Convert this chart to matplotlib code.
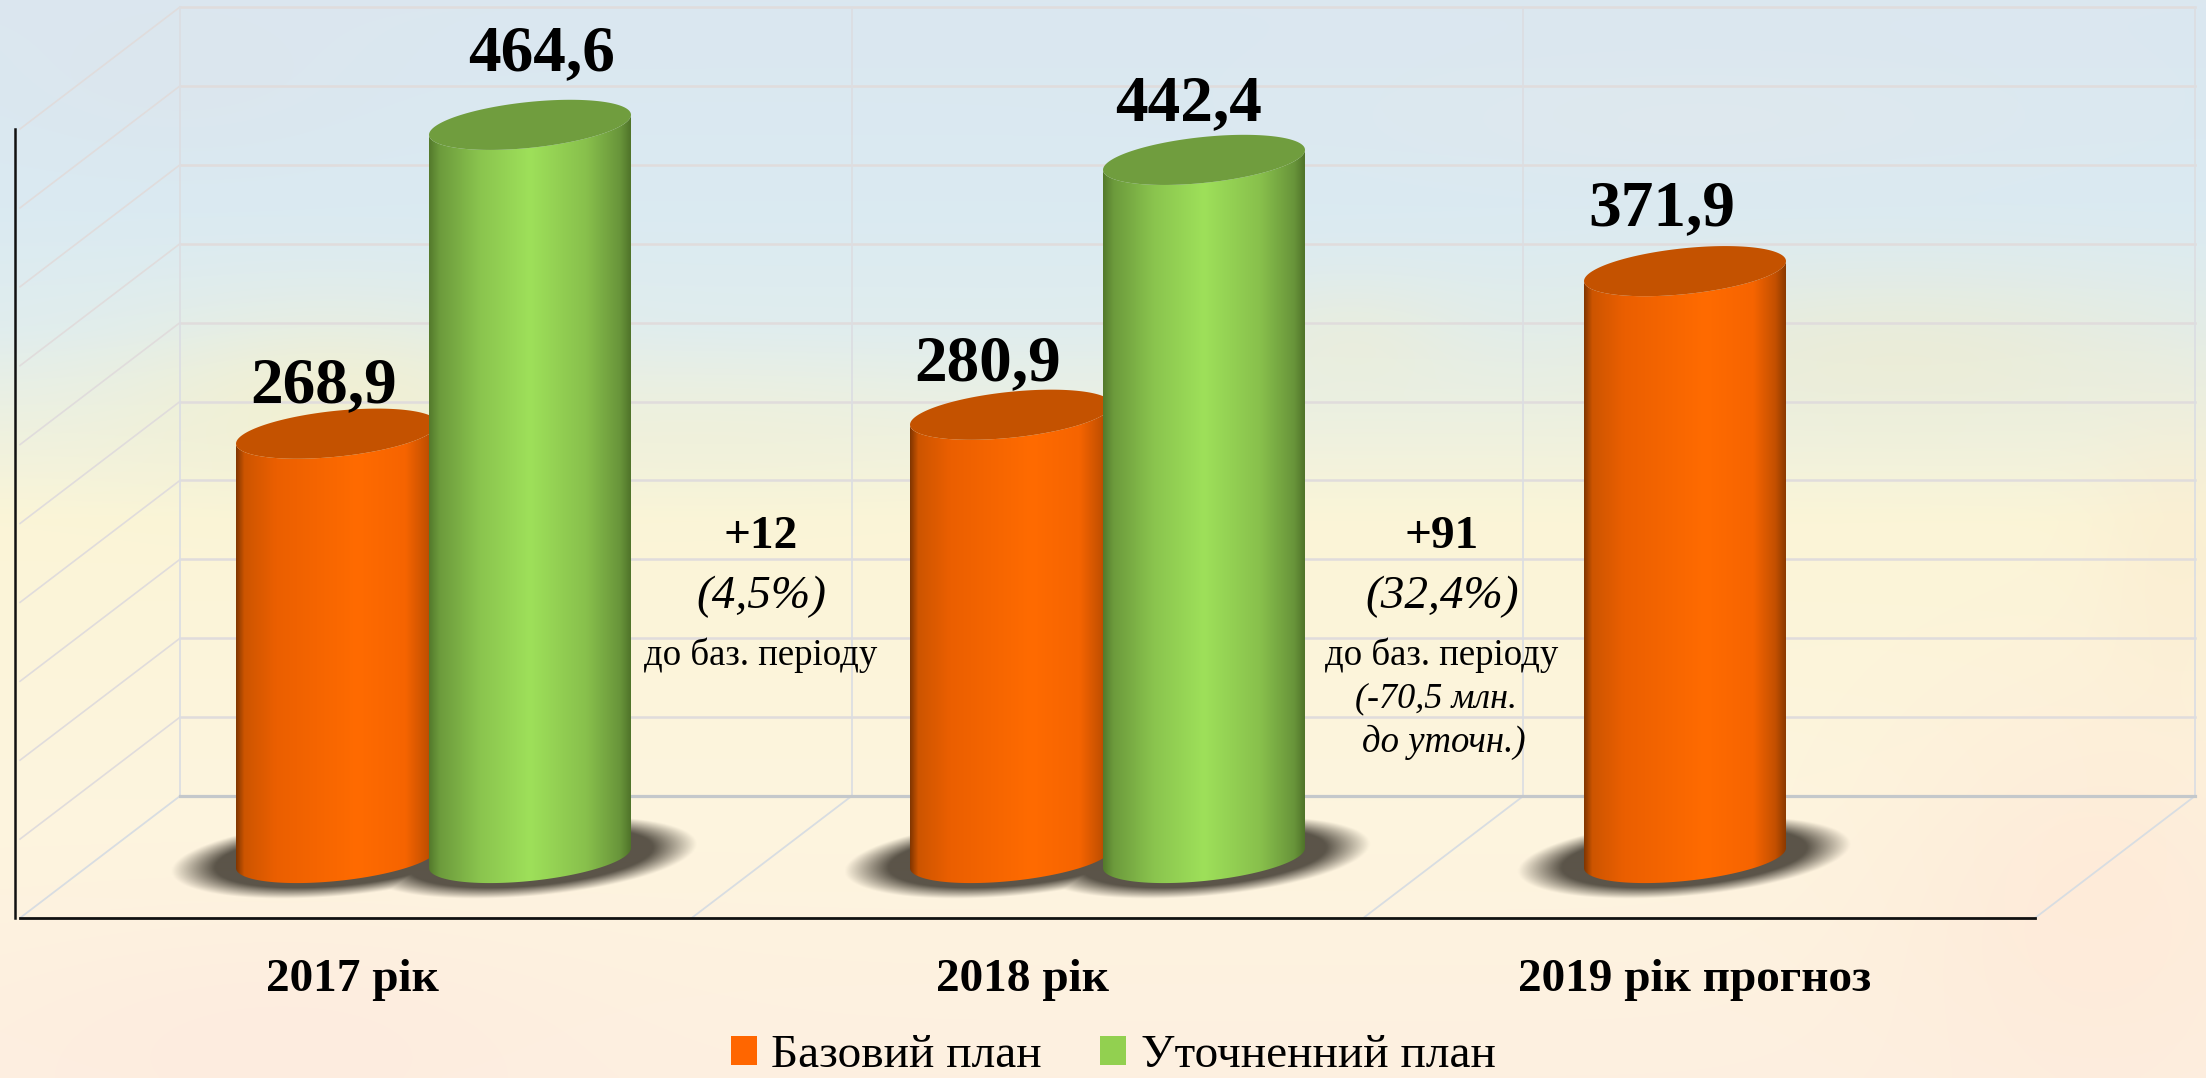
import numpy as np
import matplotlib
matplotlib.use('Agg')
import matplotlib.pyplot as plt
from matplotlib.patches import Polygon, Patch

years = ['2017 рік', '2018 рік', '2019 рік прогноз']
base_plan = [268.9, 280.9, 371.9]
updated_plan = [464.6, 442.4, None]
base_labels = ['268,9', '280,9', '371,9']
updated_labels = ['464,6', '442,4', None]
series_names = ['Базовий план', 'Уточненний план']

SERIF = 'Liberation Serif'
ORANGE = '#ff6600'
GREEN = '#92d050'

# one x unit = one group, one y unit = one value unit (1.578 px)
PX_X = 674.0
PX_Y = 1.578
X0, Y0 = 337.0, 858.0


def to_x(px):
    return (px - X0) / PX_X


def to_y(px):
    return (Y0 - px) / PX_Y


BAR_W = 202 / PX_X
GREEN_OFF = 193 / PX_X
ELL_B = 23 / PX_Y
ELL_K = 10 / PX_Y

fig = plt.figure(figsize=(22.06, 10.78), dpi=100)
ax = fig.add_axes([0, 0, 1, 1])
ax.set_xlim(to_x(0), to_x(2206))
ax.set_ylim(to_y(1078), to_y(0))
ax.axis('off')
EXTENT = (to_x(0), to_x(2206), to_y(1078), to_y(0))


def draw_background():
    yy, xx = np.mgrid[0:1078:270j, 0:2206:552j]
    stops = [0, 200, 330, 430, 520, 800, 1078]
    cols = np.array([[219, 231, 240], [218, 234, 242], [224, 237, 238], [238, 241, 224],
                     [251, 245, 215], [253, 245, 222], [253, 240, 225]], float)
    img = np.stack([np.interp(yy, stops, cols[:, i]) for i in range(3)], axis=-1)
    # soft patches of the painted backdrop: x, y, rx, ry, colour, strength
    blobs = [(330, 400, 200, 90, (244, 240, 205), 0.7),
             (1350, 340, 120, 60, (240, 238, 210), 0.5),
             (1900, 350, 300, 80, (240, 236, 205), 0.6),
             (720, 430, 180, 60, (240, 240, 215), 0.4),
             (1700, 120, 350, 70, (226, 232, 236), 0.5),
             (180, 80, 200, 90, (220, 229, 236), 0.5),
             (280, 1040, 300, 110, (255, 232, 222), 0.5),
             (2100, 900, 220, 220, (255, 230, 214), 0.6),
             (2180, 560, 80, 150, (250, 232, 205), 0.4)]
    for bx, by, rx, ry, col, s in blobs:
        a = s * np.exp(-((xx - bx) / rx) ** 2 - ((yy - by) / ry) ** 2)
        img = img * (1 - a[..., None]) + np.array(col, float) * a[..., None]
    ax.imshow(img / 255, extent=EXTENT, origin='upper', aspect='auto', zorder=0, interpolation='bilinear')


def draw_frame():
    # depth of the box, the bars stand half way in
    back_x, back_y = to_x(180), to_y(796)
    front_x, front_y = to_x(20), to_y(918)
    dx = back_x - front_x
    span = (2195 - 180) / PX_X
    grid = '#e0dcdc'
    for v in np.arange(50, 501, 50):
        ax.plot([back_x, back_x + span], [back_y + v, back_y + v], color=grid, lw=1.8, zorder=1)
        ax.plot([front_x, back_x], [front_y + v, back_y + v], color=grid, lw=1.2, zorder=1)
    top = back_y + 500
    for k in range(4):
        bx = back_x + k * span / 3
        ax.plot([bx, bx], [back_y, top], color='#dcdee2', lw=1.3, zorder=1)
        ax.plot([bx - dx, bx], [front_y, back_y], color='#d8dde2', lw=1.3, zorder=1)
    ax.plot([back_x, back_x + span], [back_y, back_y], color='#c4c8cb', lw=2.3, zorder=1)
    ax.plot([front_x, front_x + span], [front_y, front_y], color='#111111', lw=2, zorder=2)
    ax.plot([to_x(15), to_x(15)], [front_y, front_y + 500], color='#111111', lw=1.8, zorder=2)


def draw_shadows():
    yy, xx = np.mgrid[to_y(770):to_y(930):180j, to_x(100):to_x(2000):950j]
    alpha = np.zeros_like(xx)
    for i in range(len(years)):
        centers = [i] if updated_plan[i] is None else [i, i + GREEN_OFF]
        for c in centers:
            u = (xx - c) / (146 / PX_X)
            v = (yy - u * 12 / PX_Y) / (34 / PX_Y)
            d = np.sqrt(u ** 2 + v ** 2)
            alpha = np.maximum(alpha, np.clip((1.14 - d) / 0.3, 0, 1))
    rgba = np.zeros(xx.shape + (4,))
    rgba[..., :3] = np.array([72, 66, 56]) / 255
    rgba[..., 3] = alpha * 0.9
    ax.imshow(rgba, extent=(to_x(100), to_x(2000), to_y(930), to_y(770)), origin='upper',
              aspect='auto', zorder=3, interpolation='bilinear')


def cylinder(cx, value, stops, cols, top_col, z):
    a = BAR_W / 2
    t = np.linspace(0, np.pi, 80)
    # bottom rim from left to right, then back along the top rim
    bx = cx - a * np.cos(t)
    by = -ELL_B * np.sin(t) - ELL_K * np.cos(t)
    tx = cx + a * np.cos(t)
    ty = value - ELL_B * np.sin(t) + ELL_K * np.cos(t)
    body = Polygon(np.column_stack([np.r_[bx, tx], np.r_[by, ty]]), closed=True,
                   facecolor='none', edgecolor='none', transform=ax.transData)
    ax.add_patch(body)
    u = np.linspace(0, 1, 256)
    grad = np.stack([np.interp(u, stops, np.array(cols)[:, i]) for i in range(3)], axis=-1)[None, :, :] / 255
    im = ax.imshow(grad, extent=(cx - a, cx + a, -40, value + 30), aspect='auto', zorder=z,
                   interpolation='bilinear')
    im.set_clip_path(body)
    # top face
    s = np.linspace(0, 2 * np.pi, 160)
    ex = cx + a * np.cos(s)
    ey = value + ELL_B * np.sin(s) + ELL_K * np.cos(s)
    ax.fill(ex, ey, color=top_col, lw=0, zorder=z + 0.1)


ORANGE_STOPS = [0, 0.04, 0.2, 0.6, 0.84, 0.95, 1]
ORANGE_COLS = [(130, 54, 0), (205, 85, 0), (235, 95, 0), (255, 107, 0), (246, 100, 0), (195, 80, 0), (140, 58, 0)]
GREEN_STOPS = [0, 0.05, 0.25, 0.5, 0.78, 0.95, 1]
GREEN_COLS = [(84, 122, 44), (108, 154, 60), (138, 196, 78), (158, 224, 90), (136, 192, 76), (104, 148, 58), (80, 116, 42)]

draw_background()
draw_frame()
draw_shadows()

for i, val in enumerate(base_plan):
    cylinder(i, val, ORANGE_STOPS, ORANGE_COLS, '#c45200', 4)
    if updated_plan[i] is not None:
        cylinder(i + GREEN_OFF, updated_plan[i], GREEN_STOPS, GREEN_COLS, '#709d3e', 5)

# value labels: x shift and baseline lift in px
base_shift = [(-13, 32), (-23, 35), (-23, 46)]
upd_shift = [(12, 55), (-15, 40), None]
for i, val in enumerate(base_plan):
    ax.text(i + base_shift[i][0] / PX_X, val + base_shift[i][1] / PX_Y, base_labels[i], family=SERIF,
            weight='bold', fontsize=47, ha='center', va='baseline', color='black', zorder=8)
    if updated_plan[i] is not None:
        ax.text(i + GREEN_OFF + upd_shift[i][0] / PX_X, updated_plan[i] + upd_shift[i][1] / PX_Y,
                updated_labels[i], family=SERIF, weight='bold', fontsize=47, ha='center',
                va='baseline', color='black', zorder=8)

for x_px, name in zip([352, 1023, 1695], years):
    ax.text(to_x(x_px), to_y(980), name, family=SERIF, weight='bold', fontsize=34, ha='center',
            va='center', color='black', zorder=8)

# notes between the groups
notes = [(761, 537, '+12', 'bold', 'normal', 34),
         (761, 597, '(4,5%)', 'normal', 'italic', 34),
         (761, 655, 'до баз. періоду', 'normal', 'normal', 26.5),
         (1442, 537, '+91', 'bold', 'normal', 34),
         (1442, 597, '(32,4%)', 'normal', 'italic', 34),
         (1442, 655, 'до баз. періоду', 'normal', 'normal', 26.5),
         (1436, 699, '(-70,5 млн.', 'normal', 'italic', 26),
         (1444, 742, 'до уточн.)', 'normal', 'italic', 26.5)]
for x_px, y_px, txt, w, st, fs in notes:
    ax.text(to_x(x_px), to_y(y_px), txt, family=SERIF, weight=w, style=st, fontsize=fs, ha='center',
            va='center', color='black', zorder=8)

handles = [Patch(facecolor=ORANGE, label=series_names[0]), Patch(facecolor=GREEN, label=series_names[1])]
ax.legend(handles=handles, loc='center', bbox_to_anchor=(1113 / 2206, 1 - 1056 / 1078), ncol=2, frameon=False,
          prop={'family': SERIF, 'size': 34}, handlelength=0.55, handleheight=0.55, handletextpad=0.3,
          columnspacing=1.25, borderpad=0)

fig.savefig('out.png', dpi=100)
